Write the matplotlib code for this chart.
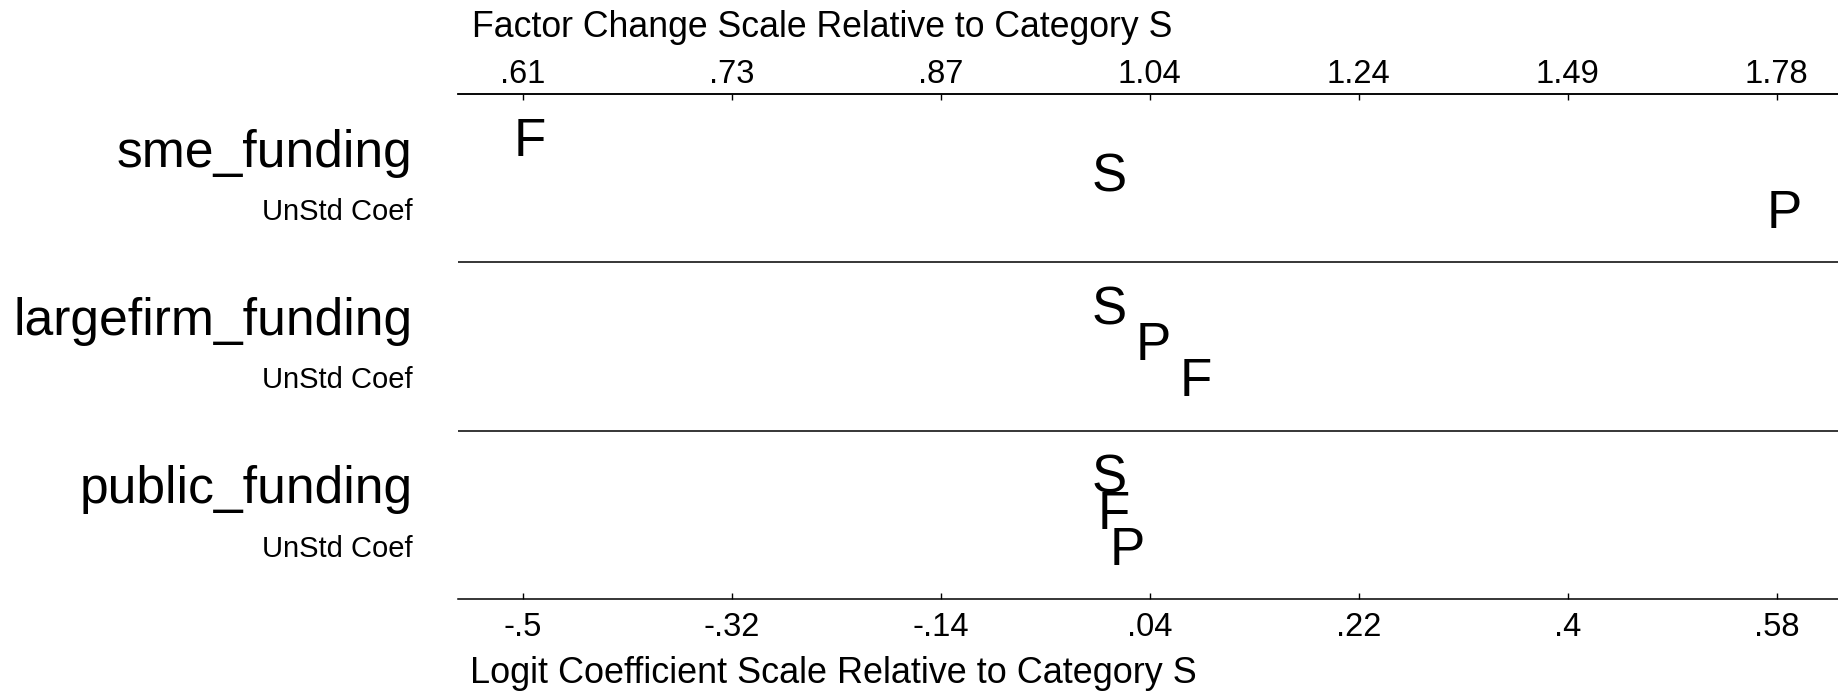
import matplotlib
matplotlib.use("Agg")
import matplotlib.pyplot as plt
import matplotlib.transforms as mtransforms

plt.rcParams['font.family'] = ['Liberation Sans', 'DejaVu Sans']

# ---- data ----
variables = ['sme_funding', 'largefirm_funding', 'public_funding']
sublabel = 'UnStd Coef'
outcome_letters = ['F', 'S', 'P']
coef_F = [-0.502, 0.075, 0.0035]
coef_S = [0.0, 0.0, 0.0]
coef_P = [0.584, 0.038, 0.0156]

logit_ticks = [-0.502, -0.321, -0.140, 0.041, 0.222, 0.403, 0.584]
logit_labels = ['-.5', '-.32', '-.14', '.04', '.22', '.4', '.58']
factor_labels = ['.61', '.73', '.87', '1.04', '1.24', '1.49', '1.78']

top_title = 'Factor Change Scale Relative to Category S'
bottom_title = 'Logit Coefficient Scale Relative to Category S'

# ---- figure ----
W, H = 1838, 693
fig = plt.figure(figsize=(W / 100, H / 100), dpi=100)
ax = fig.add_axes([458 / W, 1 - 599 / H, 1 - 458 / W, (599 - 94) / H])

n = len(variables)
ax.set_xlim(-0.558, 0.637)
ax.set_ylim(n, 0)

for s in ['left', 'right']:
    ax.spines[s].set_visible(False)
for s in ['top', 'bottom']:
    ax.spines[s].set_linewidth(1.1)

# separators
for i in range(1, n):
    ax.axhline(i, color='black', lw=1.1)

# bottom axis
ax.set_xticks(logit_ticks)
ax.set_xticklabels(logit_labels, fontsize=23.5)
ax.tick_params(axis='x', direction='in', length=4, width=1.0, pad=9.5)
ax.set_yticks([])

# top axis
ax2 = ax.twiny()
ax2.set_xlim(ax.get_xlim())
ax2.set_xticks(logit_ticks)
ax2.set_xticklabels(factor_labels, fontsize=23.5)
ax2.tick_params(axis='x', direction='in', length=4, width=1.0, pad=3)
for s in ['left', 'right', 'bottom']:
    ax2.spines[s].set_visible(False)
ax2.spines['top'].set_linewidth(1.1)

# letters
letter_tr = mtransforms.offset_copy(ax.transData, fig=fig, x=7, y=0, units='dots')
base_offsets = [0.368, 0.582, 0.796]
series = {'F': coef_F, 'S': coef_S, 'P': coef_P}
for i, var in enumerate(variables):
    vals = [(series[L][i], L) for L in outcome_letters]
    vals.sort(key=lambda t: t[0])
    for r, (v, L) in enumerate(vals):
        ax.text(v, i + base_offsets[r], L, transform=letter_tr, ha='center',
                va='baseline', fontsize=38, color='black')

# left labels
lab_tr = mtransforms.blended_transform_factory(fig.transFigure, ax.transData)
for i, var in enumerate(variables):
    ax.text(412.6 / W, i + 0.432, var, transform=lab_tr, ha='right', va='baseline',
            fontsize=37.2, color='black')
    ax.text(412.6 / W, i + 0.749, sublabel, transform=lab_tr, ha='right', va='baseline',
            fontsize=21, color='black')

# axis titles
fig.text(472 / W, 1 - 36.7 / H, top_title, ha='left', va='baseline', fontsize=25.7)
fig.text(470 / W, 1 - 683 / H, bottom_title, ha='left', va='baseline', fontsize=25.9)

fig.savefig('out.png', dpi=100)
